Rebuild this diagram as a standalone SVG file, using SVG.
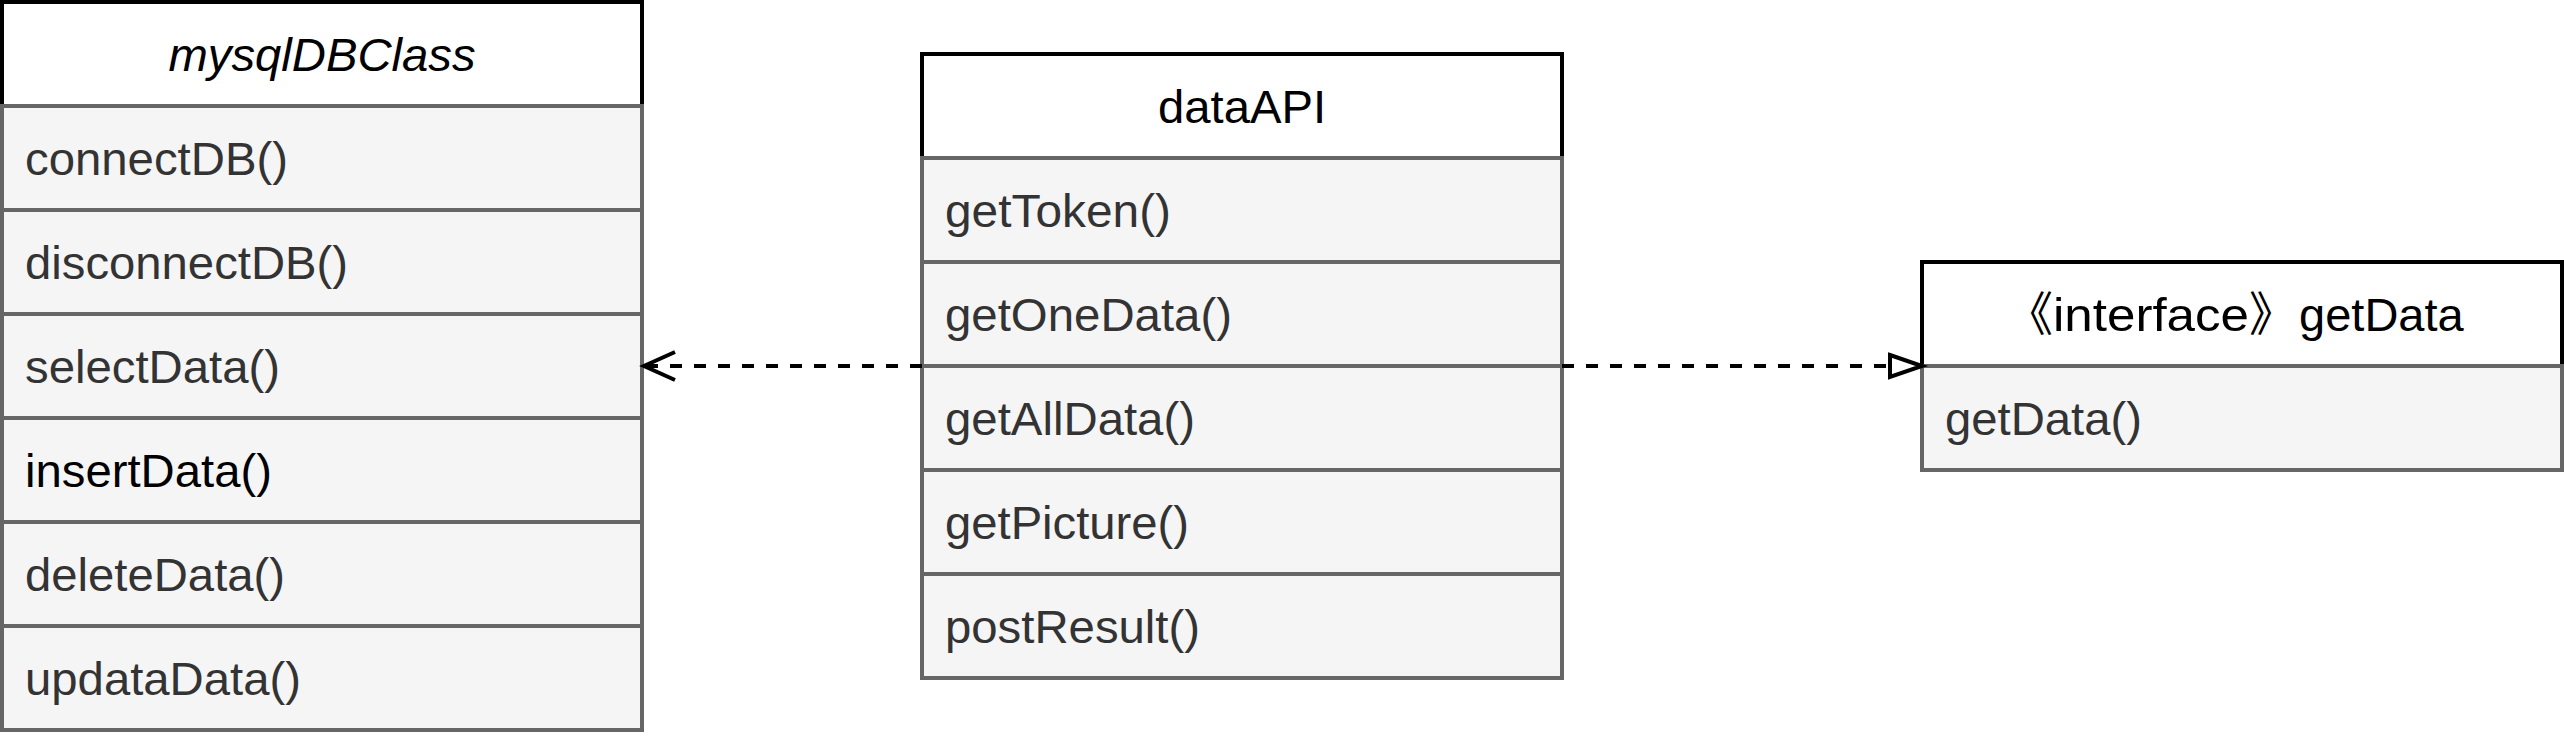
<svg xmlns="http://www.w3.org/2000/svg" width="2564" height="744" viewBox="0 0 2564 744">
<style>
  .hdr { fill: #ffffff; stroke: #000000; stroke-width: 4; }
  .row { fill: #f5f5f5; stroke: #666666; stroke-width: 4; }
  .t { font-family: "Liberation Sans", Arial, Helvetica, sans-serif; font-size: 47px; fill: #333333; }
  .th { font-family: "Liberation Sans", Arial, Helvetica, "Noto Sans CJK SC", sans-serif; font-size: 47px; fill: #000000; text-anchor: middle; }
  .ts { text-anchor: start; }
  .dark { fill: #000000; }
  .edge { fill: none; stroke: #000000; stroke-width: 4; stroke-dasharray: 12 12; }
</style>
<defs>
  <marker id="openArrow" markerUnits="userSpaceOnUse" markerWidth="40" markerHeight="40" viewBox="-36 -20 40 40" refX="0" refY="0" orient="auto" overflow="visible">
    <path d="M-31,-14 L0,0 L-31,14" fill="none" stroke="#000000" stroke-width="4"/>
  </marker>
  <marker id="hollowTri" markerUnits="userSpaceOnUse" markerWidth="40" markerHeight="30" viewBox="-4 -15 40 30" refX="0" refY="0" orient="auto" overflow="visible">
    <path d="M0,-11 L32,0 L0,11 Z" fill="#ffffff" stroke="#000000" stroke-width="4"/>
  </marker>
</defs>
<rect x="0" y="0" width="2564" height="744" fill="#ffffff"/>

<g id="mysqlDBClass">
  <rect class="hdr" x="2" y="2" width="640" height="104"/>
  <rect class="row" x="2" y="106" width="640" height="104"/>
  <rect class="row" x="2" y="210" width="640" height="104"/>
  <rect class="row" x="2" y="314" width="640" height="104"/>
  <rect class="row" x="2" y="418" width="640" height="104"/>
  <rect class="row" x="2" y="522" width="640" height="104"/>
  <rect class="row" x="2" y="626" width="640" height="104"/>
  <text class="th" x="322" y="71" font-style="italic" textLength="307" lengthAdjust="spacingAndGlyphs">mysqlDBClass</text>
  <text class="t" x="25" y="175" textLength="263" lengthAdjust="spacingAndGlyphs">connectDB()</text>
  <text class="t" x="25" y="279" textLength="323" lengthAdjust="spacingAndGlyphs">disconnectDB()</text>
  <text class="t" x="25" y="383" textLength="255" lengthAdjust="spacingAndGlyphs">selectData()</text>
  <text class="t dark" x="25" y="487" textLength="247" lengthAdjust="spacingAndGlyphs">insertData()</text>
  <text class="t" x="25" y="591" textLength="260" lengthAdjust="spacingAndGlyphs">deleteData()</text>
  <text class="t" x="25" y="695" textLength="276" lengthAdjust="spacingAndGlyphs">updataData()</text>
</g>

<g id="dataAPI">
  <rect class="hdr" x="922" y="54" width="640" height="104"/>
  <rect class="row" x="922" y="158" width="640" height="104"/>
  <rect class="row" x="922" y="262" width="640" height="104"/>
  <rect class="row" x="922" y="366" width="640" height="104"/>
  <rect class="row" x="922" y="470" width="640" height="104"/>
  <rect class="row" x="922" y="574" width="640" height="104"/>
  <text class="th" x="1242" y="123" textLength="168" lengthAdjust="spacingAndGlyphs">dataAPI</text>
  <text class="t" x="945" y="227" textLength="226" lengthAdjust="spacingAndGlyphs">getToken()</text>
  <text class="t" x="945" y="331" textLength="287" lengthAdjust="spacingAndGlyphs">getOneData()</text>
  <text class="t" x="945" y="435" textLength="250" lengthAdjust="spacingAndGlyphs">getAllData()</text>
  <text class="t" x="945" y="539" textLength="244" lengthAdjust="spacingAndGlyphs">getPicture()</text>
  <text class="t" x="945" y="643" textLength="255" lengthAdjust="spacingAndGlyphs">postResult()</text>
</g>

<g id="getDataInterface">
  <rect class="hdr" x="1922" y="262" width="640" height="104"/>
  <rect class="row" x="1922" y="366" width="640" height="104"/>
  <text class="th ts" x="2006" y="331" word-spacing="-10">《<tspan textLength="196" lengthAdjust="spacingAndGlyphs">interface</tspan>》 getData</text>
  <text class="t" x="1945" y="435" textLength="197" lengthAdjust="spacingAndGlyphs">getData()</text>
</g>

<g id="connectors">
  <line class="edge" x1="922" y1="366" x2="644" y2="366" marker-end="url(#openArrow)"/>
  <line class="edge" x1="1562" y1="366" x2="1890" y2="366" marker-end="url(#hollowTri)"/>
</g>
</svg>
